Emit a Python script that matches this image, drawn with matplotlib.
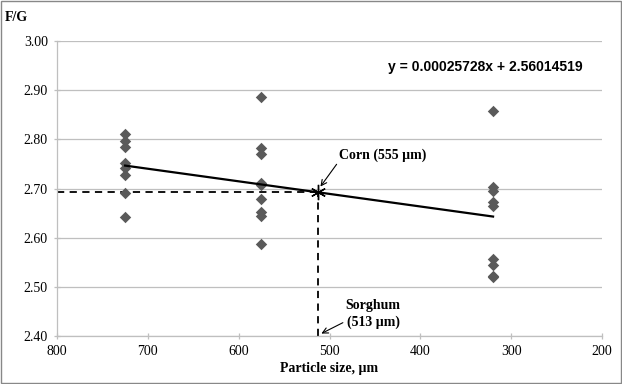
import matplotlib
matplotlib.use("Agg")
import matplotlib.pyplot as plt
from matplotlib.patches import Rectangle

# particle size groups (um) and F/G replicates
size_725 = 725
fg_725 = [2.811, 2.797, 2.785, 2.752, 2.741, 2.728, 2.690, 2.642]
size_575 = 575
fg_575 = [2.887, 2.783, 2.770, 2.712, 2.708, 2.678, 2.653, 2.645, 2.587]
size_320 = 320
fg_320 = [2.858, 2.703, 2.695, 2.672, 2.665, 2.557, 2.545, 2.523, 2.520]

# regression line endpoints and the marked point
fit_x = [725, 320]
fit_y = [2.7467, 2.6430]
mark_x = 513
mark_y = 2.692

xticks = [800, 700, 600, 500, 400, 300, 200]
yticks = [2.40, 2.50, 2.60, 2.70, 2.80, 2.90, 3.00]

serif = "Liberation Serif"
pt_color = "#5a5a5a"
grid_color = "#bfbfbf"

fig = plt.figure(figsize=(6.22, 3.84), dpi=100)
ax = fig.add_axes([0.0916, 0.125, 0.8764, 0.768])

for sx, vals in [(size_725, fg_725), (size_575, fg_575), (size_320, fg_320)]:
    ax.scatter([sx] * len(vals), vals, marker="D", s=34, color=pt_color,
               linewidths=0, zorder=3)

ax.plot(fit_x, fit_y, color="black", lw=1.6, zorder=4)
ax.plot([800, mark_x], [mark_y, mark_y], color="black", lw=1.3,
        linestyle=(0, (4, 3)), zorder=2)
ax.plot([mark_x, mark_x], [2.40, mark_y], color="black", lw=1.3,
        linestyle=(0, (4, 3)), zorder=2)
ax.plot([mark_x], [mark_y], marker=(6, 2, 0), markersize=11, color="black",
        markeredgewidth=1.0, zorder=5)

ax.set_xlim(800, 200)
ax.set_ylim(2.40, 3.00)
ax.set_xticks(xticks)
ax.set_yticks(yticks)
ax.set_xticklabels([str(t) for t in xticks], fontfamily=serif, fontsize=10)
ax.set_yticklabels(["%.2f" % t for t in yticks], fontfamily=serif, fontsize=10)
ax.grid(axis="y", color=grid_color, lw=0.9)
ax.set_axisbelow(True)
for s in ["top", "right"]:
    ax.spines[s].set_visible(False)
for s in ["left", "bottom"]:
    ax.spines[s].set_color(grid_color)
    ax.spines[s].set_linewidth(0.9)
ax.tick_params(axis="both", direction="inout", length=5, color=grid_color,
               width=0.9, pad=4)

ax.set_xlabel("Particle size, µm", fontfamily=serif, fontsize=10,
              fontweight="bold", labelpad=3)
fig.text(0.008, 0.955, "F/G", fontfamily=serif, fontsize=10,
         fontweight="bold", ha="left", va="center")

fig.text(0.936, 0.826, "y = 0.00025728x + 2.56014519",
         fontfamily="Liberation Sans", fontsize=10, fontweight="bold",
         ha="right", va="center")

ax.annotate("Corn (555 µm)", xy=(mark_x - 3, mark_y + 0.012),
            xytext=(490, 2.755), fontfamily=serif, fontsize=10,
            fontweight="bold", ha="left", va="bottom",
            arrowprops=dict(arrowstyle="->", color="black", lw=0.8,
                            shrinkA=0, shrinkB=0,
                            relpos=(0.0, 0.0)))
ax.annotate("Sorghum\n(513 µm)", xy=(mark_x - 4, 2.405),
            xytext=(452, 2.445), fontfamily=serif, fontsize=10,
            fontweight="bold", ha="center", va="center", linespacing=1.3,
            arrowprops=dict(arrowstyle="->", color="black", lw=0.8,
                            shrinkA=0, shrinkB=0,
                            relpos=(0.0, 0.25)))

fig.patches.append(Rectangle((0.002, 0.003), 0.996, 0.994,
                             transform=fig.transFigure, fill=False,
                             edgecolor="#888888", lw=1.0))

fig.savefig("out.png", dpi=100)
